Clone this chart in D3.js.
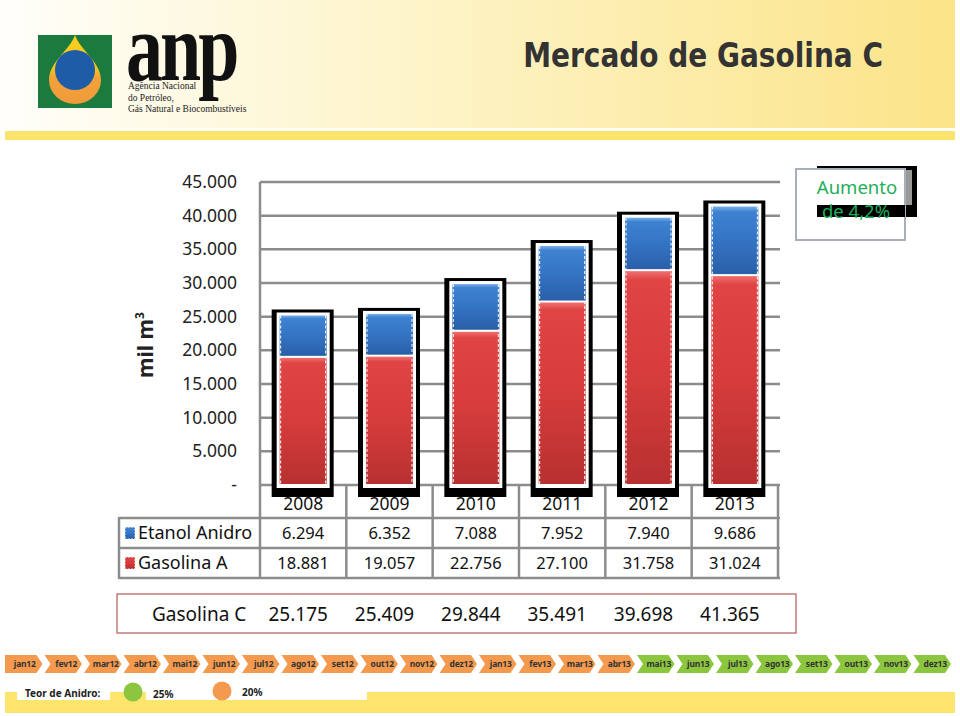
<!DOCTYPE html>
<html>
<head>
<meta charset="utf-8">
<script src="https://cdn.jsdelivr.net/npm/d3@7"></script>
<style>
  body { margin: 0; background: #fff; }
  text { font-family: "Noto Sans", sans-serif; }
</style>
</head>
<body>
<div id="chart"></div>
<script>
const years = ['2008', '2009', '2010', '2011', '2012', '2013'];
const etanolAnidro = [6294, 6352, 7088, 7952, 7940, 9686];
const gasolinaA = [18881, 19057, 22756, 27100, 31758, 31024];
const gasolinaC = [25175, 25409, 29844, 35491, 39698, 41365];
const yTicks = [0, 5000, 10000, 15000, 20000, 25000, 30000, 35000, 40000, 45000];
const months = ['jan12', 'fev12', 'mar12', 'abr12', 'mai12', 'jun12', 'jul12', 'ago12', 'set12', 'out12', 'nov12', 'dez12',
  'jan13', 'fev13', 'mar13', 'abr13', 'mai13', 'jun13', 'jul13', 'ago13', 'set13', 'out13', 'nov13', 'dez13'];
const teorAnidro = [20, 20, 20, 20, 20, 20, 20, 20, 20, 20, 20, 20, 20, 20, 20, 20, 25, 25, 25, 25, 25, 25, 25, 25];

const width = 960;
const height = 716;

const br = d3.formatLocale({ decimal: ',', thousands: '.', grouping: [3], currency: ['R$', ''] });
const fmt = br.format(',d');

const svg = d3.select('#chart').append('svg')
  .attr('width', width)
  .attr('height', height);

const defs = svg.append('defs');

function grad(id, stops, vertical) {
  const g = defs.append('linearGradient').attr('id', id);
  if (vertical) g.attr('x1', 0).attr('y1', 0).attr('x2', 0).attr('y2', 1);
  stops.forEach(s => g.append('stop').attr('offset', s[0]).attr('stop-color', s[1]));
}
grad('hdr', [[0, '#fffefa'], [0.35, '#fef6d2'], [1, '#fbe488']], false);
grad('red', [[0, '#f07070'], [0.04, '#e04444'], [0.5, '#d63c3c'], [1, '#b83030']], true);
grad('blue', [[0, '#7ab0ec'], [0.08, '#3f82d2'], [0.5, '#3474c4'], [1, '#2a5fa8']], true);
grad('drop', [[0, '#f7d21c'], [0.5, '#f5c020'], [0.62, '#f2a23a'], [1, '#f09a3a']], true);

// ---- header ----
svg.append('rect').attr('x', 0).attr('y', 0).attr('width', 955).attr('height', 128).attr('fill', 'url(#hdr)');
svg.append('rect').attr('x', 5).attr('y', 131).attr('width', 950).attr('height', 9).attr('fill', '#fbe36c');

const logo = svg.append('g');
logo.append('rect').attr('x', 38).attr('y', 35).attr('width', 74).attr('height', 73).attr('fill', '#1b7a3d');
logo.append('path')
  .attr('d', 'M75,35 C80,50 101,62 101,80 A26,24 0 0 1 49,80 C49,62 70,50 75,35 Z')
  .attr('fill', 'url(#drop)');
logo.append('circle').attr('cx', 75).attr('cy', 70).attr('r', 20).attr('fill', '#1f5ca8');

svg.append('text')
  .attr('transform', 'translate(126,80) scale(1,1.32)')
  .style('font-family', '"Liberation Serif", serif')
  .style('font-size', '74px')
  .style('font-weight', 'bold')
  .style('letter-spacing', '-3px')
  .attr('fill', '#111')
  .text('anp');
['Agência Nacional', 'do Petróleo,', 'Gás Natural e Biocombustíveis'].forEach((t, i) => {
  svg.append('text')
    .attr('transform', `translate(128,${89 + i * 11.5}) scale(1,1.12)`)
    .style('font-family', '"Liberation Serif", serif')
    .style('font-size', '9.5px')
    .attr('fill', '#222')
    .text(t);
});

svg.append('text')
  .attr('transform', 'translate(883,67) scale(1,1.2)')
  .attr('text-anchor', 'end')
  .style('font-family', '"DejaVu Sans", sans-serif')
  .style('font-weight', 'bold')
  .style('font-size', '28px')
  .attr('fill', '#333')
  .text('Mercado de Gasolina C');

// ---- chart ----
const x = d3.scaleBand().domain(years).range([260, 778]).paddingInner(0);
const y = d3.scaleLinear().domain([0, 45000]).range([485, 182]);
const cx = d => x(d) + x.bandwidth() / 2;
const gridColor = '#8c8c8c';

svg.append('g').selectAll('line').data(yTicks).join('line')
  .attr('x1', 260).attr('x2', 780)
  .attr('y1', d => y(d)).attr('y2', d => y(d))
  .attr('stroke', gridColor).attr('stroke-width', 2.5);

svg.append('g').selectAll('text').data(yTicks).join('text')
  .attr('x', 237).attr('y', d => y(d))
  .attr('dy', '0.35em')
  .attr('text-anchor', 'end')
  .style('font-size', '17.5px')
  .attr('fill', '#222')
  .text(d => d === 0 ? '-' : fmt(d));

svg.append('text')
  .attr('transform', 'translate(153,345) rotate(-90)')
  .attr('text-anchor', 'middle')
  .style('font-size', '21px')
  .style('font-weight', 'bold')
  .attr('fill', '#222')
  .text('mil m')
  .append('tspan').attr('dy', -9).style('font-size', '12px').text('3');

// table grid
const rowLines = [518, 548, 578];
const tbl = svg.append('g').attr('stroke', gridColor).attr('stroke-width', 2.5);
tbl.append('line').attr('x1', 260).attr('x2', 260).attr('y1', 182).attr('y2', 579);
rowLines.forEach(r => tbl.append('line').attr('x1', 119).attr('x2', 780).attr('y1', r).attr('y2', r));
tbl.append('line').attr('x1', 119).attr('x2', 119).attr('y1', 517).attr('y2', 579);
tbl.selectAll('line.col').data(years).join('line')
  .attr('class', 'col')
  .attr('x1', d => x(d) + x.bandwidth()).attr('x2', d => x(d) + x.bandwidth())
  .attr('y1', 485).attr('y2', 579);

// year labels (drawn under the bar frames, as in the source)
svg.append('g').selectAll('text').data(years).join('text')
  .attr('x', cx).attr('y', 504).attr('dy', '0.35em')
  .attr('text-anchor', 'middle')
  .style('font-size', '17.5px').attr('fill', '#111')
  .text(d => d);

// bars
const barW = 47;
const bars = svg.append('g').selectAll('g').data(years).join('g');
bars.append('rect')
  .attr('x', d => cx(d) - barW / 2 - 8)
  .attr('y', (d, i) => y(gasolinaC[i]) - 6)
  .attr('width', barW + 15)
  .attr('height', (d, i) => y(0) + 12 - y(gasolinaC[i]) + 6)
  .attr('fill', '#000');
bars.append('rect')
  .attr('x', d => cx(d) - barW / 2 - 3)
  .attr('y', (d, i) => y(gasolinaC[i]) - 3)
  .attr('width', barW + 6)
  .attr('height', (d, i) => y(0) + 3 - y(gasolinaC[i]) + 3)
  .attr('fill', '#fff');
bars.append('rect')
  .attr('x', d => cx(d) - barW / 2)
  .attr('y', (d, i) => y(gasolinaA[i]))
  .attr('width', barW)
  .attr('height', (d, i) => y(0) - 1 - y(gasolinaA[i]))
  .attr('fill', 'url(#red)');
bars.append('rect')
  .attr('x', d => cx(d) - barW / 2)
  .attr('y', (d, i) => y(gasolinaC[i]))
  .attr('width', barW)
  .attr('height', (d, i) => y(gasolinaA[i]) - 2 - y(gasolinaC[i]))
  .attr('fill', 'url(#blue)');
[-1, 1].forEach(side => {
  bars.append('line')
    .attr('x1', d => cx(d) + side * (barW / 2 - 1))
    .attr('x2', d => cx(d) + side * (barW / 2 - 1))
    .attr('y1', (d, i) => y(gasolinaC[i]))
    .attr('y2', y(0) - 1)
    .attr('stroke', '#fff')
    .attr('stroke-width', 1)
    .attr('stroke-dasharray', '3,2');
});

// table rows
const rows = [
  { name: 'Etanol Anidro', values: etanolAnidro, color: 'url(#blue)', y: 533 },
  { name: 'Gasolina A', values: gasolinaA, color: 'url(#red)', y: 563 }
];
rows.forEach(r => {
  svg.append('rect').attr('x', 125).attr('y', r.y - 6).attr('width', 10).attr('height', 12)
    .attr('fill', r.color).attr('stroke', '#fff').attr('stroke-width', 0.8).attr('stroke-dasharray', '2,1');
  svg.append('text').attr('x', 138).attr('y', r.y).attr('dy', '0.35em')
    .style('font-size', '18px').attr('fill', '#111').text(r.name);
  svg.append('g').selectAll('text').data(r.values).join('text')
    .attr('x', (d, i) => cx(years[i])).attr('y', r.y).attr('dy', '0.35em')
    .attr('text-anchor', 'middle')
    .style('font-size', '16.5px').attr('fill', '#111')
    .text(d => fmt(d));
});

// Gasolina C box
svg.append('rect').attr('x', 117).attr('y', 594).attr('width', 679).attr('height', 39)
  .attr('fill', '#fff').attr('stroke', '#b05a5a').attr('stroke-width', 1.2);
svg.append('text').attr('x', 152).attr('y', 614).attr('dy', '0.35em')
  .style('font-size', '19px').attr('fill', '#111').text('Gasolina C');
svg.append('g').selectAll('text').data(gasolinaC).join('text')
  .attr('x', (d, i) => cx(years[i]) - 5).attr('y', 614).attr('dy', '0.35em')
  .attr('text-anchor', 'middle')
  .style('font-size', '19px').attr('fill', '#111')
  .text(d => fmt(d));

// Aumento box
svg.append('rect').attr('x', 817).attr('y', 166).attr('width', 100).attr('height', 51).attr('fill', '#000');
svg.append('rect').attr('x', 905).attr('y', 170).attr('width', 7).attr('height', 35).attr('fill', '#fff').attr('opacity', 0.6);
svg.append('rect').attr('x', 796).attr('y', 169).attr('width', 109).attr('height', 71)
  .attr('fill', '#fff').attr('stroke', '#a8aeba').attr('stroke-width', 2);
svg.append('rect').attr('x', 817).attr('y', 205).attr('width', 88).attr('height', 12).attr('fill', '#000');
svg.append('text').attr('x', 857).attr('y', 188).attr('dy', '0.35em').attr('text-anchor', 'middle')
  .style('font-size', '18.5px').attr('fill', '#1fae5a').text('Aumento');
svg.append('text').attr('x', 856).attr('y', 212).attr('dy', '0.35em').attr('text-anchor', 'middle')
  .style('font-size', '18.5px').attr('fill', '#1fae5a').text('de 4,2%');

// ---- footer timeline ----
const teorColor = d3.scaleOrdinal().domain([20, 25]).range(['#f39a4e', '#8cc63f']);
const m = d3.scaleBand().domain(months).range([5, 953]);
const chevTop = 655, chevBot = 673, chevMid = 664, tip = 6;
const chev = svg.append('g').selectAll('g').data(months).join('g');
chev.append('path')
  .attr('d', (d, i) => {
    const x0 = m(d), x1 = m(d) + m.bandwidth() - 2;
    const notch = i === 0 ? x0 : x0 + tip;
    return `M${x0},${chevTop}L${x1 - tip},${chevTop}L${x1},${chevMid}L${x1 - tip},${chevBot}L${x0},${chevBot}L${notch},${chevMid}Z`;
  })
  .attr('fill', (d, i) => teorColor(teorAnidro[i]));
chev.append('text')
  .attr('x', (d, i) => m(d) + m.bandwidth() / 2 + (i === 0 ? 0 : 2)).attr('y', chevMid).attr('dy', '0.35em')
  .attr('text-anchor', 'middle')
  .style('font-size', '8.5px').style('font-weight', 'bold').style('letter-spacing', '-0.2px').attr('fill', '#333')
  .text(d => d);

svg.append('rect').attr('x', 5).attr('y', 692).attr('width', 950).attr('height', 21).attr('fill', '#fde46c');
svg.append('rect').attr('x', 17).attr('y', 684).attr('width', 93).attr('height', 16).attr('fill', '#fff');
svg.append('rect').attr('x', 146).attr('y', 684).attr('width', 221).attr('height', 16).attr('fill', '#fff');
svg.append('text').attr('x', 25).attr('y', 697).style('font-size', '10px').style('font-weight', 'bold')
  .attr('fill', '#222').text('Teor de Anidro:');
const legendItems = [25, 20];
legendItems.forEach((v, i) => {
  const lx = 133 + i * 89;
  svg.append('circle').attr('cx', lx).attr('cy', 692 - i).attr('r', 9.5).attr('fill', teorColor(v));
  svg.append('text').attr('x', lx + 20).attr('y', 698 - i * 2).style('font-size', '10px').style('font-weight', 'bold')
    .attr('fill', '#222').text(v + '%');
});
</script>
</body>
</html>
